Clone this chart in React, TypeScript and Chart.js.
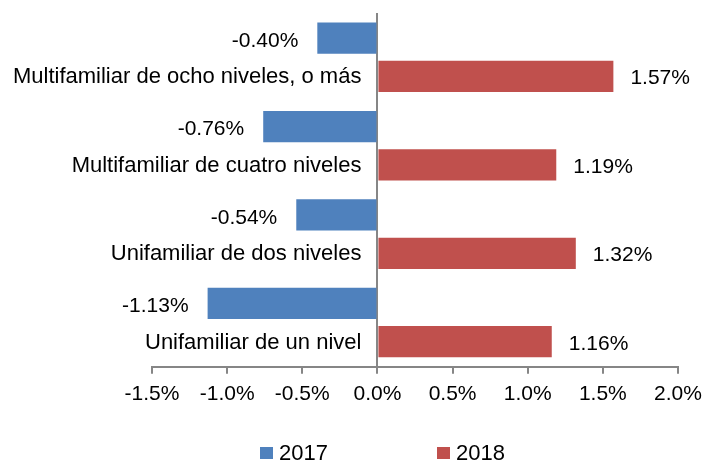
import React, { useEffect, useRef } from "react";
import { Chart, registerables } from "chart.js";

Chart.register(...registerables);

const categories = [
  "Multifamiliar de ocho niveles, o más",
  "Multifamiliar de cuatro niveles",
  "Unifamiliar de dos niveles",
  "Unifamiliar de un nivel",
];
const seriesNames = ["2017", "2018"];
const values2017 = [-0.4, -0.76, -0.54, -1.13];
const values2018 = [1.57, 1.19, 1.32, 1.16];
const xMin = -1.5;
const xMax = 2.0;
const xStep = 0.5;

const FONT = "'Liberation Sans', Arial, sans-serif";
const BLUE = "#4F81BD";
const RED = "#C0504D";
const AXIS = "#868686";

const labelsPlugin = {
  id: "customLabels",
  afterDatasetsDraw(chart: any) {
    const ctx = chart.ctx;
    const x = chart.scales.x;
    const zero = x.getPixelForValue(0);
    ctx.save();
    ctx.fillStyle = "#000";
    ctx.textBaseline = "middle";
    // category labels next to the zero line, aligned with the 2018 bar
    ctx.font = `22px ${FONT}`;
    const meta1 = chart.getDatasetMeta(1);
    chart.data.labels.forEach((lab: string, i: number) => {
      const el = meta1.data[i];
      ctx.textAlign = "right";
      ctx.fillText(lab, zero - 16, el.y + 1);
    });
    // data labels
    ctx.font = `21px ${FONT}`;
    chart.data.datasets.forEach((ds: any, di: number) => {
      const meta = chart.getDatasetMeta(di);
      meta.data.forEach((el: any, i: number) => {
        const v = ds.data[i];
        const txt = v.toFixed(2) + "%";
        if (v < 0) {
          ctx.textAlign = "right";
          ctx.fillText(txt, el.x - 19, el.y + 3);
        } else {
          ctx.textAlign = "left";
          ctx.fillText(txt, el.x + 17, el.y + 2);
        }
      });
    });
    ctx.restore();
  },
  afterDraw(chart: any) {
    const ctx = chart.ctx;
    ctx.save();
    ctx.font = `22px ${FONT}`;
    ctx.textBaseline = "middle";
    ctx.textAlign = "left";
    const boxXs = [260, 437];
    const cy = 453;
    chart.data.datasets.forEach((ds: any, i: number) => {
      const bx = boxXs[i];
      ctx.fillStyle = ds.backgroundColor;
      ctx.fillRect(bx, cy - 6, 13, 12);
      ctx.fillStyle = "#000";
      ctx.fillText(ds.label, bx + 19, cy + 1);
    });
    ctx.restore();
  },
};

export default function App() {
  const ref = useRef<HTMLCanvasElement | null>(null);
  useEffect(() => {
    if (!ref.current) return;
    const chart = new Chart(ref.current, {
      type: "bar",
      data: {
        labels: categories,
        datasets: [
          {
            label: seriesNames[0],
            data: values2017,
            backgroundColor: BLUE,
            categoryPercentage: 0.866,
            barPercentage: 0.816,
          },
          {
            label: seriesNames[1],
            data: values2018,
            backgroundColor: RED,
            categoryPercentage: 0.866,
            barPercentage: 0.816,
          },
        ],
      },
      options: {
        indexAxis: "y",
        responsive: false,
        animation: false,
        devicePixelRatio: 1,
        layout: { padding: { top: 13, left: 152, right: 26, bottom: 47 } },
        plugins: {
          legend: { display: false },
          tooltip: { enabled: false },
        },
        scales: {
          x: {
            min: xMin,
            max: xMax,
            afterFit: (s: any) => {
              s.paddingLeft = 0;
              s.paddingRight = 0;
            },
            ticks: {
              stepSize: xStep,
              color: "#000",
              font: { family: FONT, size: 21 },
              padding: 8,
              callback: (v: any) => Number(v).toFixed(1) + "%",
            },
            grid: {
              color: (c: any) =>
                c.tick && Math.abs(c.tick.value) < 1e-9 ? AXIS : "rgba(0,0,0,0)",
              lineWidth: 2,
              tickColor: AXIS,
              tickLength: 7,
              tickWidth: 2,
            },
            border: { color: AXIS, width: 2 },
          },
          y: {
            display: false,
          },
        },
      } as any,
      plugins: [labelsPlugin],
    });
    return () => chart.destroy();
  }, []);
  return (
    <div style={{ position: "absolute", left: 0, top: 0, width: 704, height: 462, background: "#fff" }}>
      <canvas ref={ref} width={704} height={462} />
    </div>
  );
}
